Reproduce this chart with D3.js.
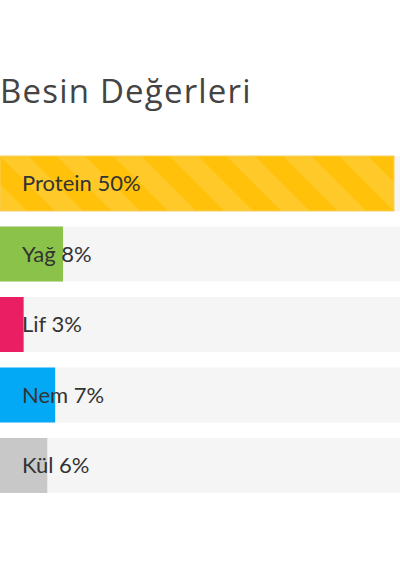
<!DOCTYPE html>
<html>
<head>
<meta charset="utf-8">
<script src="https://cdn.jsdelivr.net/npm/d3@7"></script>
<style>
  html, body { margin:0; padding:0; background:#fff; }
  svg { display:block; }
</style>
</head>
<body>
<div id="chart"></div>
<script>
// besin degerleri (yuzde)
const names  = ['Protein', 'Yağ', 'Lif', 'Nem', 'Kül'];
const values = [50, 8, 3, 7, 6];
const colors = ['#ffc10a', '#8bc34a', '#e91e63', '#03a9f4', '#c8c8c8'];
const title  = 'Besin Değerleri';

const W = 400, H = 570;
const svg = d3.select('#chart').append('svg')
    .attr('width', W).attr('height', H);

// stripes for the first bar
const defs = svg.append('defs');
const pat = defs.append('pattern')
    .attr('id', 'stripes')
    .attr('patternUnits', 'userSpaceOnUse')
    .attr('width', 40).attr('height', 40)
    .attr('patternTransform', 'rotate(-45)');
pat.append('rect').attr('width', 40).attr('height', 40).attr('fill', colors[0]);
pat.append('rect').attr('width', 20).attr('height', 40).attr('fill', 'rgba(255,255,255,0.13)');

svg.append('text')
    .attr('x', 0).attr('y', 103)
    .style('font-family', '"Open Sans", sans-serif')
    .style('font-size', '33px')
    .style('letter-spacing', '1.2px')
    .style('fill', '#444')
    .text(title);

const x = d3.scaleLinear().domain([0, 100]).range([0, 788]);
const y = d3.scaleBand().domain(names).range([156, 493]).paddingInner(0.22).paddingOuter(0);

const row = svg.selectAll('g.row').data(names).enter()
    .append('g').attr('class', 'row')
    .attr('transform', d => `translate(0,${y(d)})`);

row.append('rect')
    .attr('x', 0).attr('width', W)
    .attr('height', y.bandwidth())
    .attr('fill', '#f5f5f5');

row.append('rect')
    .attr('x', 0)
    .attr('width', (d, i) => x(values[i]))
    .attr('height', y.bandwidth())
    .attr('fill', (d, i) => i == 0 ? 'url(#stripes)' : colors[i])
    .attr('stroke', (d, i) => i == 0 ? '#f3cf5a' : 'none')
    .attr('stroke-width', 1);

row.append('text')
    .attr('x', 22)
    .attr('y', y.bandwidth() / 2 + 8)
    .style('font-family', 'Lato, sans-serif')
    .style('font-size', '22px')
    .style('fill', '#333')
    .text((d, i) => `${d} ${values[i]}%`);
</script>
</body>
</html>
